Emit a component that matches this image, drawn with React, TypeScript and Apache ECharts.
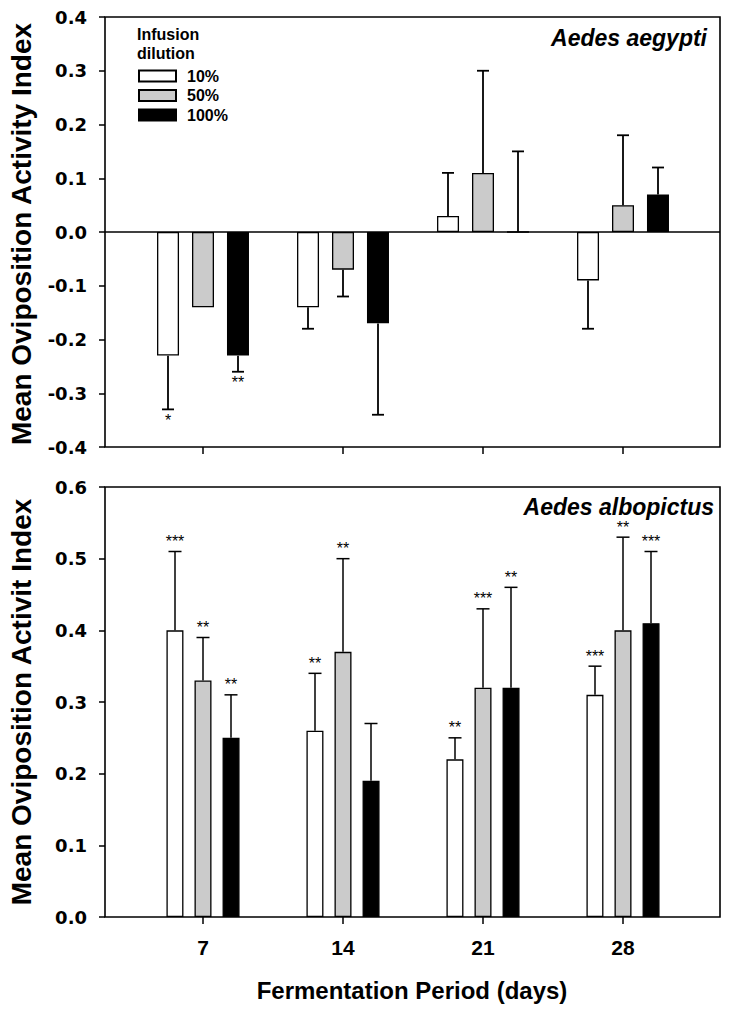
import React, { useEffect, useRef } from "react";
import * as echarts from "echarts";

// ---------- data ----------
const days = [7, 14, 21, 28];
const dilutions = ["10%", "50%", "100%"];

// Aedes aegypti (top panel): bar means and error-bar ends
const aegypti10 = [-0.23, -0.14, 0.03, -0.09];
const aegypti50 = [-0.14, -0.07, 0.11, 0.05];
const aegypti100 = [-0.23, -0.17, 0.0, 0.07];
const aegypti10Err = [-0.33, -0.18, 0.11, -0.18];
const aegypti50Err = [null, -0.12, 0.3, 0.18];
const aegypti100Err = [-0.26, -0.34, 0.15, 0.12];
const aegypti10Sig = ["*", "", "", ""];
const aegypti50Sig = ["", "", "", ""];
const aegypti100Sig = ["**", "", "", ""];

// Aedes albopictus (bottom panel)
const albo10 = [0.4, 0.26, 0.22, 0.31];
const albo50 = [0.33, 0.37, 0.32, 0.4];
const albo100 = [0.25, 0.19, 0.32, 0.41];
const albo10Err = [0.51, 0.34, 0.25, 0.35];
const albo50Err = [0.39, 0.5, 0.43, 0.53];
const albo100Err = [0.31, 0.27, 0.46, 0.51];
const albo10Sig = ["***", "**", "**", "***"];
const albo50Sig = ["**", "**", "***", "**"];
const albo100Sig = ["**", "", "**", "***"];

const topTicks = [-0.4, -0.3, -0.2, -0.1, 0.0, 0.1, 0.2, 0.3, 0.4];
const bottomTicks = [0.0, 0.1, 0.2, 0.3, 0.4, 0.5, 0.6];

// ---------- styles ----------
const FILLS = ["#ffffff", "#cbcbcb", "#000000"];
const SANS = '"Liberation Sans", Arial, sans-serif';
const TICK_FONT = '"DejaVu Sans", sans-serif';

function buildErrorSeries(
  xAxisIndex: number,
  means: number[][],
  ends: (number | null)[][],
  sigs: string[][],
  spacing: number,
  capHalf: number,
  lineWidth: number,
  below: boolean
) {
  const items: any[] = [];
  means.forEach((arr, g) =>
    arr.forEach((m, d) => {
      const e = ends[g][d];
      if (e === null || e === undefined) return;
      items.push({ value: [days[d], m, e], g, sig: sigs[g][d] });
    })
  );
  return {
    type: "custom",
    xAxisIndex,
    yAxisIndex: xAxisIndex,
    z: 5,
    silent: true,
    data: items.map((it) => it.value),
    encode: { x: 0, y: [1, 2] },
    renderItem: (params: any, api: any) => {
      const it = items[params.dataIndex];
      const p0 = api.coord([it.value[0], it.value[1]]);
      const p1 = api.coord([it.value[0], it.value[2]]);
      const x = p0[0] + (it.g - 1) * spacing;
      const children: any[] = [
        {
          type: "line",
          shape: { x1: x, y1: p0[1], x2: x, y2: p1[1] },
          style: { stroke: "#000", lineWidth },
        },
        {
          type: "line",
          shape: { x1: x - capHalf, y1: p1[1], x2: x + capHalf, y2: p1[1] },
          style: { stroke: "#000", lineWidth },
        },
      ];
      if (it.sig) {
        children.push({
          type: "text",
          x,
          y: below ? p1[1] + 5 : p1[1] - 4,
          style: {
            text: it.sig,
            fill: "#000",
            font: `16px ${SANS}`,
            align: "center",
            verticalAlign: below ? "top" : "bottom",
            lineHeight: 12,
          },
        });
      }
      return { type: "group", children };
    },
  };
}

function barSeries(
  name: string,
  idx: number,
  values: number[],
  axis: number,
  barWidth: number,
  barGap: string,
  extra: any = {}
) {
  return {
    type: "bar",
    name,
    xAxisIndex: axis,
    yAxisIndex: axis,
    data: values.map((v, i) => [days[i], v]),
    barWidth,
    barGap,
    itemStyle: {
      color: FILLS[idx],
      borderColor: "#000",
      borderWidth: 1.3,
    },
    emphasis: { disabled: true },
    ...extra,
  };
}

export default function App() {
  const ref = useRef<HTMLDivElement>(null);

  useEffect(() => {
    if (!ref.current) return;
    const chart = echarts.init(ref.current, undefined, { renderer: "svg" });

    const xAxisCommon = (gridIndex: number, showLabel: boolean) => ({
      type: "value",
      gridIndex,
      min: 2.1,
      max: 32.85,
      axisLine: { show: false, onZero: false },
      splitLine: { show: false },
      axisTick: {
        show: true,
        inside: false,
        length: 7,
        lineStyle: { color: "#000", width: 1.5 },
        customValues: days,
      },
      axisLabel: {
        show: showLabel,
        customValues: days,
        margin: 20,
        color: "#000",
        fontFamily: SANS,
        fontWeight: "bold",
        fontSize: 21,
      },
    });

    const yAxisCommon = (gridIndex: number, min: number, max: number) => ({
      type: "value",
      gridIndex,
      min,
      max,
      interval: 0.1,
      axisLine: { show: false },
      splitLine: { show: false },
      axisTick: {
        show: true,
        inside: false,
        length: 6,
        lineStyle: { color: "#000", width: 1.5 },
      },
      axisLabel: {
        margin: 18,
        color: "#000",
        fontFamily: TICK_FONT,
        fontWeight: "bold",
        fontSize: 18,
        formatter: (v: number) => (Math.abs(v) < 1e-9 ? 0 : v).toFixed(1),
      },
    });

    const option: any = {
      animation: false,
      backgroundColor: "#fff",
      grid: [
        {
          left: 105,
          top: 17,
          width: 615,
          height: 430,
          show: true,
          borderColor: "#000",
          borderWidth: 1.6,
          backgroundColor: "transparent",
          containLabel: false,
          outerBoundsMode: "none",
        },
        {
          left: 105,
          top: 487,
          width: 615,
          height: 430,
          show: true,
          borderColor: "#000",
          borderWidth: 1.6,
          backgroundColor: "transparent",
          containLabel: false,
          outerBoundsMode: "none",
        },
      ],
      xAxis: [xAxisCommon(0, false), xAxisCommon(1, true)],
      yAxis: [
        yAxisCommon(0, topTicks[0], topTicks[topTicks.length - 1]),
        yAxisCommon(1, bottomTicks[0], bottomTicks[bottomTicks.length - 1]),
      ],
      legend: {
        show: true,
        orient: "vertical",
        left: 133,
        top: 63,
        icon: "rect",
        itemWidth: 37,
        itemHeight: 11,
        itemGap: 3.5,
        selectedMode: false,
        data: dilutions,
        textStyle: {
          color: "#000",
          fontFamily: SANS,
          fontWeight: "bold",
          fontSize: 16,
          padding: [0, 0, 0, 6],
        },
      },
      graphic: [
        {
          type: "text",
          left: 137,
          top: 25,
          style: {
            text: "Infusion\ndilution",
            fill: "#000",
            font: `bold 16px ${SANS}`,
            lineHeight: 19,
          },
        },
        {
          type: "text",
          x: 707,
          y: 38,
          style: {
            text: "Aedes aegypti",
            fill: "#000",
            font: `italic bold 23px ${SANS}`,
            align: "right",
            verticalAlign: "middle",
          },
        },
        {
          type: "text",
          x: 714,
          y: 507,
          style: {
            text: "Aedes albopictus",
            fill: "#000",
            font: `italic bold 23px ${SANS}`,
            align: "right",
            verticalAlign: "middle",
            lineHeight: 23,
          },
        },
        {
          type: "text",
          x: 21,
          y: 234,
          rotation: Math.PI / 2,
          style: {
            text: "Mean Oviposition Activity Index",
            fill: "#000",
            font: `bold 28px ${SANS}`,
            align: "center",
            verticalAlign: "middle",
          },
        },
        {
          type: "text",
          x: 21,
          y: 702,
          rotation: Math.PI / 2,
          style: {
            text: "Mean Oviposition Activit Index",
            fill: "#000",
            font: `bold 28px ${SANS}`,
            align: "center",
            verticalAlign: "middle",
          },
        },
        {
          type: "text",
          x: 412,
          y: 990,
          style: {
            text: "Fermentation Period (days)",
            fill: "#000",
            font: `bold 24px ${SANS}`,
            align: "center",
            verticalAlign: "middle",
          },
        },
      ],
      series: [
        barSeries(dilutions[0], 0, aegypti10, 0, 22, "59%", {
          markLine: {
            silent: true,
            symbol: ["none", "none"],
            label: { show: false },
            lineStyle: { color: "#000", width: 1.5, type: "solid" },
            data: [{ yAxis: 0 }],
          },
        }),
        barSeries(dilutions[1], 1, aegypti50, 0, 22, "59%"),
        barSeries(dilutions[2], 2, aegypti100, 0, 22, "59%"),
        barSeries(dilutions[0], 0, albo10, 1, 17, "65%"),
        barSeries(dilutions[1], 1, albo50, 1, 17, "65%"),
        barSeries(dilutions[2], 2, albo100, 1, 17, "65%"),
        buildErrorSeries(
          0,
          [aegypti10, aegypti50, aegypti100],
          [aegypti10Err, aegypti50Err, aegypti100Err],
          [aegypti10Sig, aegypti50Sig, aegypti100Sig],
          35,
          6,
          1.8,
          true
        ),
        buildErrorSeries(
          1,
          [albo10, albo50, albo100],
          [albo10Err, albo50Err, albo100Err],
          [albo10Sig, albo50Sig, albo100Sig],
          28,
          6.5,
          1.5,
          false
        ),
      ],
    };

    chart.setOption(option);
    return () => chart.dispose();
  }, []);

  return (
    <div
      ref={ref}
      style={{ position: "fixed", left: 0, top: 0, width: 729, height: 1014 }}
    />
  );
}
